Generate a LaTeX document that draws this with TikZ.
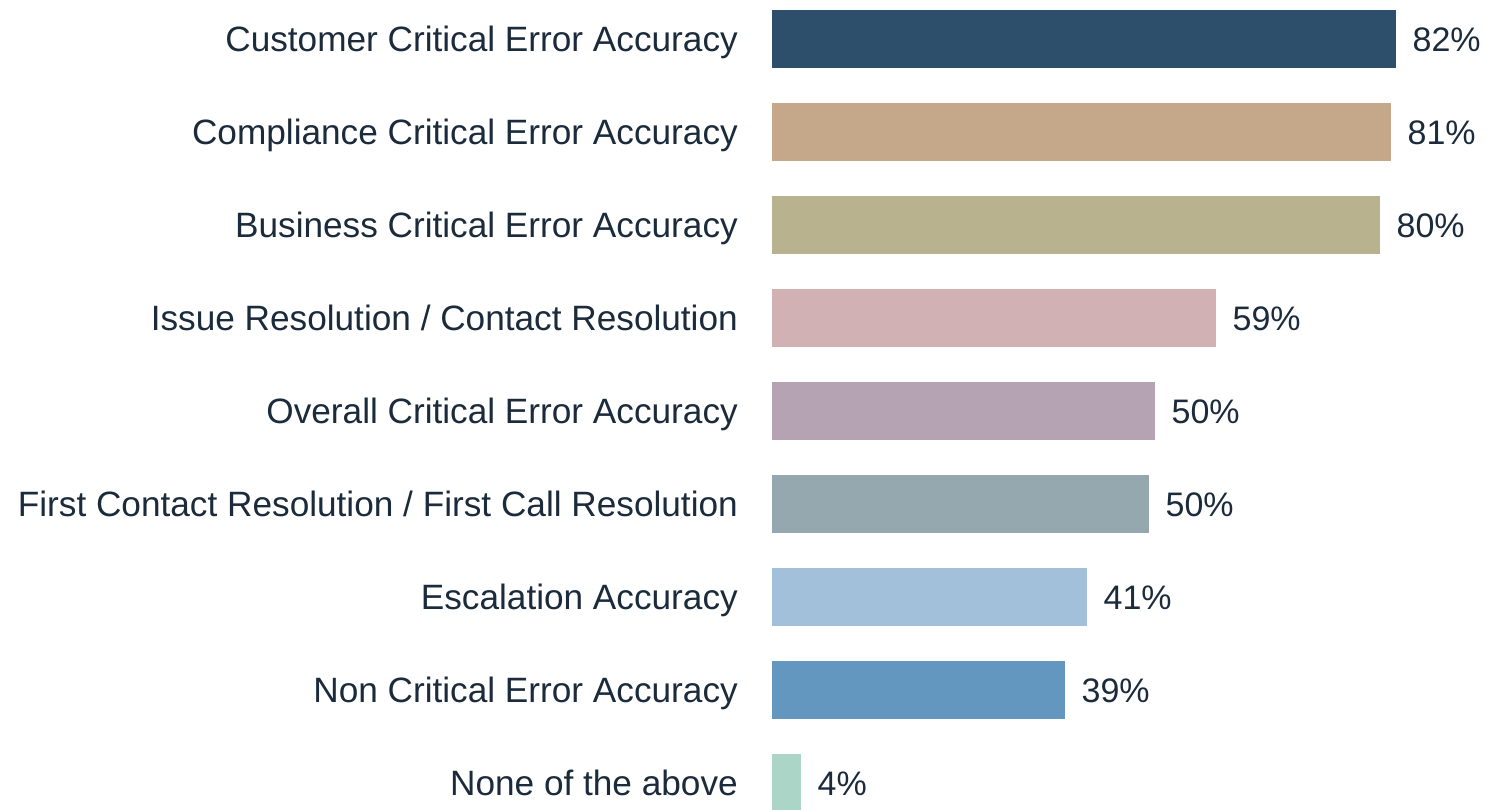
\documentclass[tikz,border=0pt]{standalone}
\usepackage{fontspec}
\setmainfont{Liberation Sans}
\definecolor{txt}{HTML}{1B2B3B}
\definecolor{c1}{HTML}{2D4F6B}
\definecolor{c2}{HTML}{C5A78A}
\definecolor{c3}{HTML}{B8B38E}
\definecolor{c4}{HTML}{D2B1B5}
\definecolor{c5}{HTML}{B5A3B3}
\definecolor{c6}{HTML}{95A8B0}
\definecolor{c7}{HTML}{A3C0DA}
\definecolor{c8}{HTML}{6497C0}
\definecolor{c9}{HTML}{ABD5C6}
\tikzset{
  bar/.style={anchor=west, inner sep=0pt, minimum height=58pt, draw=none},
  lab/.style={anchor=east, inner sep=0pt, text=txt, font=\fontsize{35.2}{40}\selectfont, text height=25.2pt, text depth=0pt},
  val/.style={anchor=west, inner sep=0pt, text=txt, font=\fontsize{34}{40}\selectfont, text height=24.4pt, text depth=0pt, xshift=16pt},
}
\begin{document}
\begin{tikzpicture}[x=1pt,y=-1pt]
\useasboundingbox (0,0) rectangle (1488,809);
\begin{scope}
\clip (0,0) rectangle (1488,809);
\node[bar, fill=c1, minimum width=624pt] (b1) at (772,39) {};
\node[bar, fill=c2, minimum width=619pt] (b2) at (772,132) {};
\node[bar, fill=c3, minimum width=608pt] (b3) at (772,225) {};
\node[bar, fill=c4, minimum width=444pt] (b4) at (772,318) {};
\node[bar, fill=c5, minimum width=383pt] (b5) at (772,411) {};
\node[bar, fill=c6, minimum width=377pt] (b6) at (772,504) {};
\node[bar, fill=c7, minimum width=315pt] (b7) at (772,597) {};
\node[bar, fill=c8, minimum width=293pt] (b8) at (772,690) {};
\node[bar, fill=c9, minimum width=29pt] (b9) at (772,783) {};
\end{scope}
\node[lab] (l1) at (738,39) {Customer Critical Error Accuracy};
\node[lab] (l2) at (738,132) {Compliance Critical Error Accuracy};
\node[lab] (l3) at (738,225) {Business Critical Error Accuracy};
\node[lab] (l4) at (738,318) {Issue Resolution / Contact Resolution};
\node[lab] (l5) at (738,411) {Overall Critical Error Accuracy};
\node[lab] (l6) at (738,504) {First Contact Resolution / First Call Resolution};
\node[lab] (l7) at (738,597) {Escalation Accuracy};
\node[lab] (l8) at (738,690) {Non Critical Error Accuracy};
\node[lab] (l9) at (738,783) {None of the above};
\node[val] (v1) at (b1.east) {82\%};
\node[val] (v2) at (b2.east) {81\%};
\node[val] (v3) at (b3.east) {80\%};
\node[val] (v4) at (b4.east) {59\%};
\node[val] (v5) at (b5.east) {50\%};
\node[val] (v6) at (b6.east) {50\%};
\node[val] (v7) at (b7.east) {41\%};
\node[val] (v8) at (b8.east) {39\%};
\node[val] (v9) at (b9.east) {4\%};
\end{tikzpicture}
\end{document}
